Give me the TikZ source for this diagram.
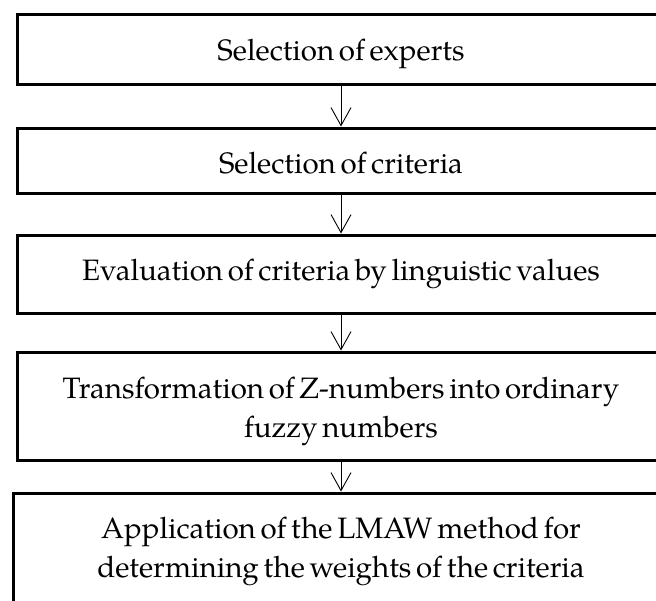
\documentclass[tikz,border=0pt]{standalone}
\usepackage{fontspec}
\setmainfont{TeX Gyre Pagella}
\usetikzlibrary{arrows.meta}
\newcommand{\tightwords}{\spaceskip=0.16em\relax}
\begin{document}
\begin{tikzpicture}[x=1pt,y=-1pt,
  box/.style={draw, line width=3pt, minimum width=648pt, inner sep=0pt},
  lbl/.style={anchor=base, font=\fontsize{29.5}{39}\selectfont, text width=640pt, align=center, inner sep=0pt},
  flow/.style={line width=0.9pt, -{Straight Barb[length=18pt,width=20pt,line width=0.9pt]}}]
\useasboundingbox (0,0) rectangle (656,600);
\clip (0,0) rectangle (656,600);
\fill[white] (0,0) rectangle (656,600);
\node[box, minimum height=70pt] (b1) at (341,49) {};
\node[box, minimum height=65pt] (b2) at (341,160.5) {};
\node[box, minimum height=78pt] (b3) at (341,274) {};
\node[box, minimum height=108pt] (b4) at (341,406) {};
\node[box, minimum height=116pt, minimum width=656pt] (b5) at (341,551) {};
\node[lbl] (t1) at (341,60) {\tightwords Selection of experts};
\node[lbl] (t2) at (341,173) {\tightwords Selection of criteria};
\node[lbl] (t3) at (341,280) {\tightwords Evaluation of criteria by linguistic values};
\node[lbl] (t4) at (341,398) {\tightwords Transformation of Z-numbers into ordinary\\fuzzy numbers};
\node[lbl] (t5) at (341,538) {\tightwords Application of the LMAW method for\\determining the weights of the criteria};
\draw[flow] (b1.south) -- (b2.north);
\draw[flow] (b2.south) -- (b3.north);
\draw[flow] (b3.south) -- (b4.north);
\draw[flow] (b4.south) -- (b5.north);
\end{tikzpicture}
\end{document}
